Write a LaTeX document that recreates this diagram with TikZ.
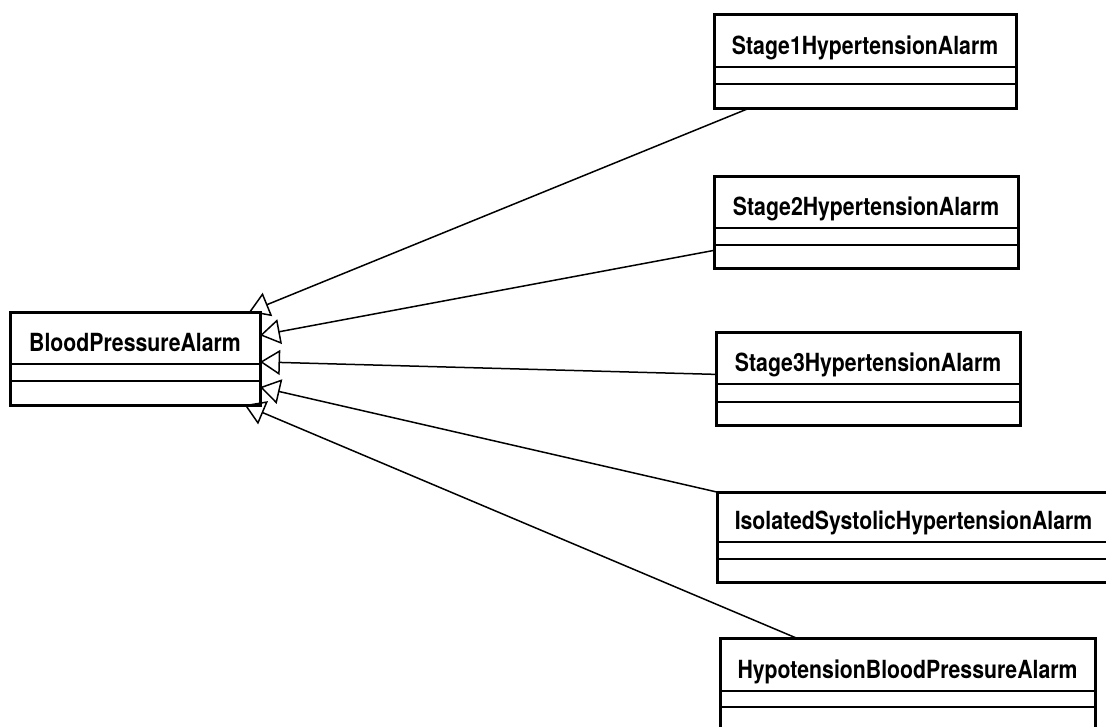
\documentclass[tikz,border=0pt]{standalone}
\usepackage{fontspec}
\setmainfont{TeX Gyre Heros}
\usetikzlibrary{arrows.meta}

% one UML class box: name, left, top, right, bottom, divider 1, divider 2, title
\newcommand\umlclass[8]{%
  \node[classbox, minimum width={(#4-#2)*1pt}, minimum height={(#5-#3)*1pt}]
    (#1) at ({(#2+#4)/2},{(#3+#5)/2}) {};
  \draw[divider] (#2,#6) -- (#4,#6);
  \draw[divider] (#2,#7) -- (#4,#7);
  \node[classname] at ({(#2+#4)/2},{#6-13}) {\scalebox{0.85}[1]{#8}};
}

\begin{document}
\begin{tikzpicture}[x=1pt,y=-1pt,
  classbox/.style={draw=black, line width=3pt, fill=white, inner sep=0pt, outer sep=0pt},
  divider/.style={line width=1.8pt},
  classname/.style={anchor=base, inner sep=0pt, font=\fontsize{25}{25}\selectfont\bfseries},
  inherit/.style={line width=1.5pt, -{Triangle[open, length=20pt, width=25pt, line width=1.5pt]}},
]
\useasboundingbox (0,0) rectangle (1106,726);
\fill[white] (0,0) rectangle (1106,726);
\clip (0,0) rectangle (1106,726);

% parent class
\umlclass{bpa}{10}{312}{260}{405}{364}{381}{BloodPressureAlarm}

% subclasses
\umlclass{s1}{714}{14}{1016}{108}{67}{84}{Stage1HypertensionAlarm}
\umlclass{s2}{714}{176}{1018}{268}{228}{245}{Stage2HypertensionAlarm}
\umlclass{s3}{716}{332}{1020}{425}{384}{402}{Stage3HypertensionAlarm}
\umlclass{iso}{717}{492}{1110}{582}{542}{559}{IsolatedSystolicHypertensionAlarm}
\umlclass{hypo}{720}{638}{1095}{732}{691}{707}{HypotensionBloodPressureAlarm}

% generalisation arrows
\draw[inherit] (s1) -- (bpa);
\draw[inherit] (s2) -- (bpa);
\draw[inherit] (s3) -- (bpa);
\draw[inherit] (iso) -- (bpa);
\draw[inherit] (hypo) -- (bpa);
\end{tikzpicture}
\end{document}
